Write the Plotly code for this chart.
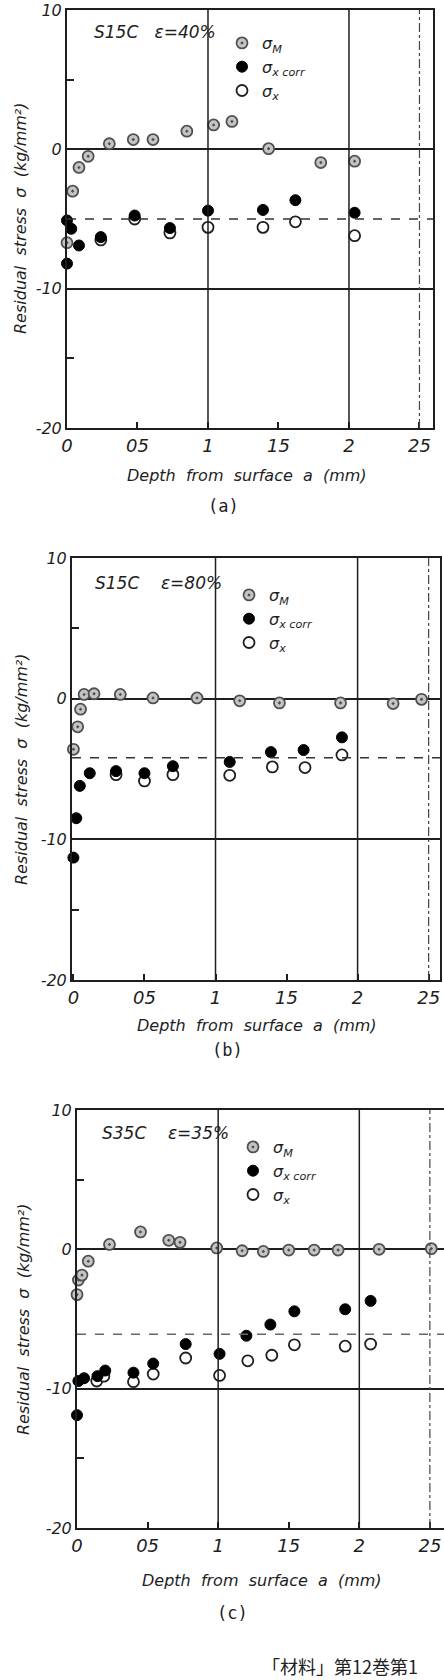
import plotly.graph_objects as go

# ---------------- data ----------------
# Panel (a) S15C eps=40%
a_M_x = [0.0, 0.04, 0.085, 0.15, 0.30, 0.47, 0.61, 0.85, 1.04, 1.17, 1.43, 1.80, 2.04]
a_M_y = [-6.7, -3.0, -1.3, -0.5, 0.4, 0.7, 0.7, 1.3, 1.75, 2.0, 0.05, -0.95, -0.85]
a_corr_x = [0.0, 0.0, 0.03, 0.085, 0.24, 0.48, 0.73, 1.0, 1.39, 1.62, 2.04]
a_corr_y = [-8.2, -5.1, -5.7, -6.9, -6.3, -4.75, -5.65, -4.4, -4.35, -3.65, -4.55]
a_x_x = [0.24, 0.48, 0.73, 1.0, 1.39, 1.62, 2.04]
a_x_y = [-6.5, -5.0, -6.0, -5.6, -5.6, -5.2, -6.2]

# Panel (b) S15C eps=80%
b_M_x = [0.0, 0.03, 0.05, 0.075, 0.145, 0.33, 0.56, 0.87, 1.17, 1.45, 1.88, 2.25, 2.45]
b_M_y = [-3.6, -2.0, -0.75, 0.3, 0.35, 0.3, 0.05, 0.05, -0.15, -0.3, -0.3, -0.35, -0.05]
b_corr_x = [0.0, 0.02, 0.045, 0.115, 0.30, 0.50, 0.70, 1.10, 1.39, 1.62, 1.89]
b_corr_y = [-11.3, -8.5, -6.2, -5.3, -5.15, -5.3, -4.8, -4.5, -3.8, -3.65, -2.75]
b_x_x = [0.30, 0.50, 0.70, 1.10, 1.40, 1.63, 1.89]
b_x_y = [-5.4, -5.85, -5.4, -5.45, -4.85, -4.9, -4.0]

# Panel (c) S35C eps=35%
c_M_x = [0.0, 0.01, 0.035, 0.08, 0.23, 0.45, 0.65, 0.73, 0.99, 1.17, 1.32, 1.50, 1.68, 1.85, 2.14, 2.51]
c_M_y = [-3.25, -2.2, -1.85, -0.85, 0.35, 1.25, 0.65, 0.5, 0.1, -0.1, -0.15, -0.05, -0.05, -0.05, 0.0, 0.05]
c_corr_x = [0.0, 0.01, 0.05, 0.145, 0.20, 0.40, 0.54, 0.77, 1.01, 1.20, 1.37, 1.54, 1.90, 2.08]
c_corr_y = [-11.9, -9.45, -9.25, -9.1, -8.7, -8.85, -8.2, -6.8, -7.5, -6.2, -5.4, -4.45, -4.3, -3.7]
c_x_x = [0.14, 0.19, 0.40, 0.54, 0.77, 1.01, 1.21, 1.38, 1.54, 1.90, 2.08]
c_x_y = [-9.45, -9.1, -9.5, -8.95, -7.8, -9.05, -8.0, -7.6, -6.85, -6.95, -6.8]

dashed_levels = [-5.0, -4.2, -6.1]
panel_titles = ["S15C\u00a0\u00a0 \u03b5=40%", "S15C\u00a0\u00a0\u00a0 \u03b5=80%", "S35C\u00a0\u00a0\u00a0 \u03b5=35%"]
captions = ["(a)", "(b)", "(c)"]

x_tickvals = [0, 0.5, 1, 1.5, 2, 2.5]
x_ticktext = ["0", "05", "1", "15", "2", "25"]
y_tickvals = [-20, -10, 0, 10]
y_ticktext = ["-20", "-10", "0", "10"]
y_minor = [-15, 5]
grid_x = [1, 2]
dashdot_x = [2.5]

names = ["\u03c3<sub>M</sub>", "\u03c3<sub>x corr</sub>", "\u03c3<sub>x</sub>"]
x_title = "Depth\u00a0 from\u00a0 surface\u00a0 a\u00a0 (mm)"
y_title = "Residual\u00a0 stress\u00a0 \u03c3\u00a0 (kg/mm\u00b2)"
footer = "\u300c\u6750\u6599\u300d\u7b2c12\u5dfb\u7b2c1"

series = [
    (a_M_x, a_M_y, a_corr_x, a_corr_y, a_x_x, a_x_y),
    (b_M_x, b_M_y, b_corr_x, b_corr_y, b_x_x, b_x_y),
    (c_M_x, c_M_y, c_corr_x, c_corr_y, c_x_x, c_x_y),
]

# ---------------- layout geometry (pixels) ----------------
W, H = 444, 1680
geo = [
    dict(l=67, r=433, t=10, b=428, xr=[0, 2.596]),
    dict(l=72, r=440, t=558, b=980, xr=[-0.01, 2.58]),
    dict(l=77, r=444, t=1110, b=1528, xr=[0, 2.60]),
]
txt = [
    dict(title=(92, 32), xt=(247, 475), cap=(223, 506), yt=(21, 218), leg=(222, 26)),
    dict(title=(93, 583), xt=(257, 1025), cap=(227, 1050), yt=(22, 769), leg=(229, 578)),
    dict(title=(100, 1133), xt=(262, 1580), cap=(232, 1613), yt=(23, 1319), leg=(233, 1130)),
]

FONT = "DejaVu Sans"
INK = "#1e1e1e"

def fx(p):
    return p / W

def fy(p):
    return 1 - p / H

fig = go.Figure()
shapes = []
annotations = []
layout = {}

for i, (mx, my, cx, cy, ox, oy) in enumerate(series):
    n = "" if i == 0 else str(i + 1)
    xa, ya = "x" + n, "y" + n
    leg = "legend" + n
    fig.add_trace(go.Scatter(
        x=ox, y=oy, mode="markers", name=names[2], xaxis=xa, yaxis=ya, legend=leg,
        legendrank=3, legendgroup=f"g3{i}", cliponaxis=False,
        marker=dict(symbol="circle", size=11, color="white", line=dict(color=INK, width=1.8))))
    fig.add_trace(go.Scatter(
        x=mx, y=my, mode="markers", name=names[0], xaxis=xa, yaxis=ya, legend=leg,
        legendrank=1, legendgroup=f"g1{i}", cliponaxis=False,
        marker=dict(symbol="circle-dot", size=11, color="#c4c4c4", line=dict(color="#505050", width=1.8))))
    fig.add_trace(go.Scatter(
        x=cx, y=cy, mode="markers", name=names[1], xaxis=xa, yaxis=ya, legend=leg,
        legendrank=2, legendgroup=f"g2{i}", cliponaxis=False,
        marker=dict(symbol="circle", size=11, color="black", line=dict(color="black", width=1))))

    g = geo[i]
    layout["xaxis" + n] = dict(
        domain=[fx(g["l"]), fx(g["r"])], range=g["xr"], anchor=ya,
        tickvals=x_tickvals, ticktext=x_ticktext, ticks="inside", ticklen=6,
        tickcolor=INK, tickwidth=1.5, showgrid=False, zeroline=False,
        showline=True, mirror=True, linecolor=INK, linewidth=2,
        tickfont=dict(family=FONT, size=18, color=INK, style="italic"),
        ticklabeloverflow="allow", automargin=False, fixedrange=True)
    layout["yaxis" + n] = dict(
        domain=[fy(g["b"]), fy(g["t"])], range=[-20, 10], anchor=xa,
        tickvals=y_tickvals, ticktext=y_ticktext, ticks="",
        showgrid=True, gridcolor=INK, gridwidth=1.5, zeroline=False,
        showline=True, mirror=True, linecolor=INK, linewidth=2,
        minor=dict(tickvals=y_minor, ticks="inside", ticklen=7, tickcolor=INK, tickwidth=1.5, showgrid=False),
        tickfont=dict(family=FONT, size=16, color=INK, style="italic"),
        ticklabeloverflow="allow", automargin=False, fixedrange=True)

    for gx in grid_x:
        shapes.append(dict(type="line", xref=xa, yref=ya + " domain", x0=gx, x1=gx, y0=0, y1=1,
                           line=dict(color=INK, width=1.5)))
    for gx in dashdot_x:
        shapes.append(dict(type="line", xref=xa, yref=ya + " domain", x0=gx, x1=gx, y0=0, y1=1,
                           line=dict(color="#444", width=1.2, dash="dashdot")))
    shapes.append(dict(type="line", xref=xa + " domain", yref=ya, x0=0, x1=1,
                       y0=dashed_levels[i], y1=dashed_levels[i],
                       line=dict(color="#333" if i < 2 else "#666", width=1.5, dash="dash")))

    t = txt[i]
    annotations.append(dict(text=panel_titles[i], xref="paper", yref="paper",
                            x=fx(t["title"][0]), y=fy(t["title"][1]), xanchor="left", yanchor="middle",
                            showarrow=False, font=dict(family=FONT, size=17, color=INK, style="italic")))
    annotations.append(dict(text=x_title, xref="paper", yref="paper",
                            x=fx(t["xt"][0]), y=fy(t["xt"][1]), xanchor="center", yanchor="middle",
                            showarrow=False, font=dict(family=FONT, size=16, color=INK, style="italic")))
    annotations.append(dict(text=captions[i], xref="paper", yref="paper",
                            x=fx(t["cap"][0]), y=fy(t["cap"][1]), xanchor="center", yanchor="middle",
                            showarrow=False, font=dict(family="DejaVu Sans Mono", size=17, color=INK)))
    annotations.append(dict(text=y_title, xref="paper", yref="paper", textangle=-90,
                            x=fx(t["yt"][0]), y=fy(t["yt"][1]), xanchor="center", yanchor="middle",
                            showarrow=False, font=dict(family=FONT, size=16, color=INK, style="italic")))
    layout[leg] = dict(x=fx(t["leg"][0]), y=fy(t["leg"][1]), xanchor="left", yanchor="top",
                       bgcolor="rgba(0,0,0,0)", borderwidth=0, tracegroupgap=0,
                       itemwidth=30, font=dict(family=FONT, size=16, color=INK, style="italic"))

annotations.append(dict(text=footer, xref="paper", yref="paper", x=fx(260), y=fy(1666),
                        xanchor="left", yanchor="middle", showarrow=False,
                        font=dict(family="Noto Sans CJK JP", size=18, color="#222")))

fig.update_layout(
    width=W, height=H, margin=dict(l=0, r=0, t=0, b=0),
    paper_bgcolor="white", plot_bgcolor="white",
    showlegend=True, shapes=shapes, annotations=annotations, **layout)

fig.write_html("out.html")
